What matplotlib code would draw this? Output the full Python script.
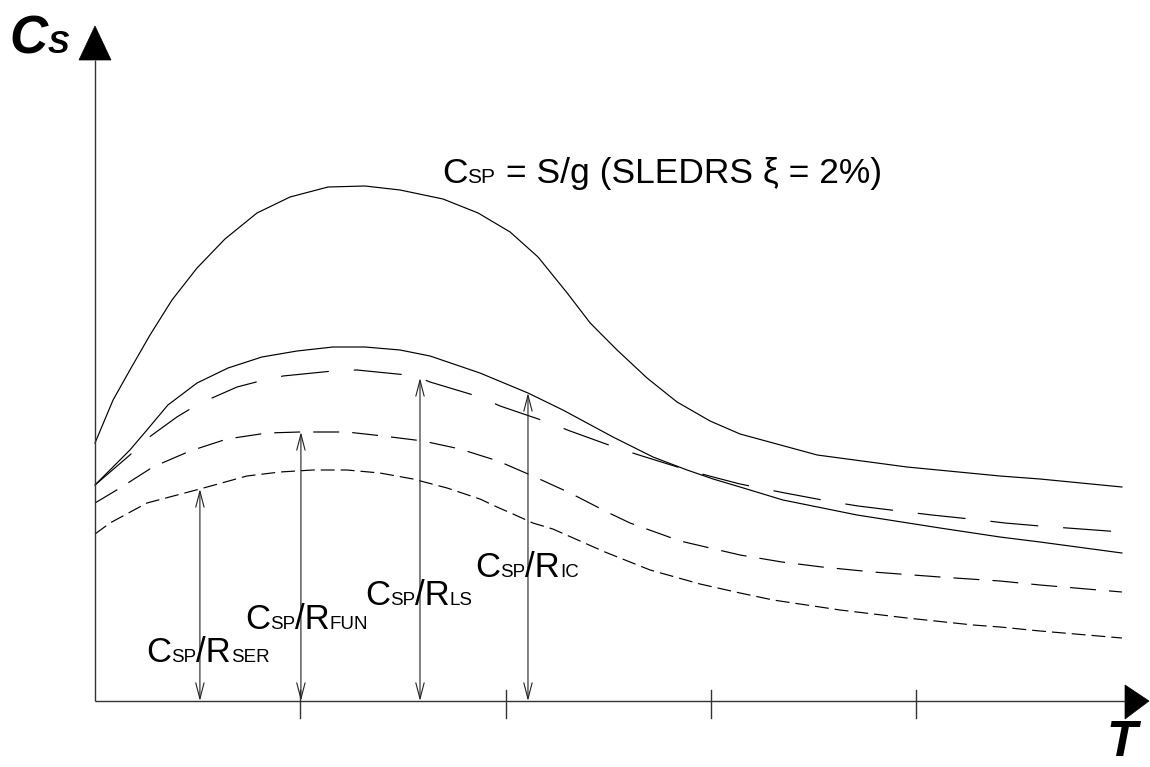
import numpy as np
import matplotlib
matplotlib.use("Agg")
import matplotlib.pyplot as plt
import matplotlib.transforms as mtransforms
from matplotlib.patches import Polygon

plt.rcParams['font.family'] = ['Liberation Sans', 'DejaVu Sans']
plt.rcParams['lines.scale_dashes'] = False

# ---------------- data (T in tick units, Cs in arbitrary units) ----------------
t_sledrs = [0.000, 0.088, 0.170, 0.268, 0.375, 0.497, 0.633, 0.789, 0.950, 1.135, 1.315,
            1.486, 1.695, 1.866, 2.022, 2.158, 2.300, 2.412, 2.543, 2.689, 2.835, 2.996,
            3.142, 3.518, 3.955, 4.408, 4.603, 5.002]
cs_sledrs = [2.58, 3.01, 3.31, 3.66, 4.01, 4.33, 4.62, 4.88, 5.04, 5.14, 5.15,
             5.11, 5.02, 4.88, 4.69, 4.44, 4.08, 3.78, 3.51, 3.23, 2.99, 2.80,
             2.67, 2.46, 2.34, 2.25, 2.22, 2.14]

t_ic = [0.000, 0.073, 0.170, 0.253, 0.355, 0.497, 0.648, 0.813, 0.984, 1.159, 1.315,
        1.486, 1.632, 1.875, 2.109, 2.279, 2.523, 2.718, 2.884, 3.011, 3.142, 3.351,
        3.712, 4.116, 4.408, 4.603, 5.002]
cs_ic = [2.16, 2.31, 2.51, 2.71, 2.96, 3.18, 3.33, 3.44, 3.50, 3.54, 3.54,
         3.51, 3.45, 3.28, 3.08, 2.91, 2.64, 2.44, 2.31, 2.22, 2.14, 2.01,
         1.86, 1.73, 1.64, 1.59, 1.48]

t_ls = [0.000, 0.170, 0.258, 0.399, 0.463, 0.570, 0.692, 0.804, 0.916, 1.159, 1.276,
        1.520, 1.583, 1.632, 1.875, 1.973, 2.202, 2.314, 2.543, 2.665, 2.884, 3.011,
        3.142, 3.361, 3.595, 3.717, 3.955, 4.077, 4.310, 4.432, 4.603, 5.002]
cs_ls = [2.16, 2.46, 2.63, 2.84, 2.92, 3.03, 3.14, 3.20, 3.25, 3.30, 3.31,
         3.26, 3.23, 3.19, 3.04, 2.95, 2.79, 2.70, 2.53, 2.45, 2.31, 2.24,
         2.17, 2.08, 1.99, 1.95, 1.89, 1.86, 1.81, 1.78, 1.75, 1.69]

t_fun = [0.000, 0.122, 0.282, 0.463, 0.643, 0.838, 0.999, 1.227, 1.403, 1.598, 1.778,
         1.963, 2.143, 2.314, 2.494, 2.606, 2.850, 3.142, 3.346, 3.541, 3.789, 4.116,
         4.408, 4.603, 5.002]
cs_fun = [1.98, 2.13, 2.34, 2.50, 2.62, 2.68, 2.69, 2.69, 2.65, 2.60, 2.52,
          2.40, 2.24, 2.08, 1.89, 1.78, 1.60, 1.46, 1.39, 1.34, 1.29, 1.24,
          1.20, 1.16, 1.09]

t_ser = [0.000, 0.073, 0.253, 0.511, 0.740, 0.901, 1.062, 1.227, 1.388, 1.549, 1.715,
         1.875, 1.958, 2.036, 2.133, 2.230, 2.484, 2.704, 2.947, 3.142, 3.303, 3.629,
         3.955, 4.277, 4.408, 4.603, 5.002]
cs_ser = [1.67, 1.78, 1.98, 2.12, 2.25, 2.29, 2.31, 2.31, 2.28, 2.22, 2.13,
          2.02, 1.94, 1.87, 1.78, 1.72, 1.49, 1.31, 1.17, 1.08, 1.01, 0.91,
          0.83, 0.76, 0.74, 0.70, 0.63]

x_ticks = [1, 2, 3, 4]
arrow_t = {'SER': 0.511, 'FUN': 1.003, 'LS': 1.583, 'IC': 2.109}

# ---------------- layout ----------------
W, H = 1150, 767
X0, Y0 = 95, 701          # origin in pixels
PXT, PXC = 205.3, 100.0   # pixels per unit
def tx(px): return (px - X0) / PXT
def cy(py): return (Y0 - py) / PXC

fig = plt.figure(figsize=(W / 100, H / 100), dpi=100)
ax = fig.add_axes([0, 0, 1, 1])
ax.set_xlim(tx(0), tx(W))
ax.set_ylim(cy(H), cy(0))
ax.axis('off')

lw = 0.85
ax.plot(t_sledrs, cs_sledrs, color='k', lw=lw)
ax.plot(t_ic, cs_ic, color='k', lw=lw)
ax.plot(t_ls, cs_ls, color='k', lw=lw, linestyle=(0, (34.6, 18.0)))
ax.plot(t_fun, cs_fun, color='k', lw=lw, linestyle=(0, (18.7, 9.4)))
ax.plot(t_ser, cs_ser, color='k', lw=lw, linestyle=(0, (10.0, 4.3)))

# axes
ax.plot([0, tx(1125)], [0, 0], color='#333333', lw=1.0, solid_capstyle='butt')
ax.plot([0, 0], [0, cy(60)], color='#333333', lw=1.0, solid_capstyle='butt')
ax.add_patch(Polygon([[tx(1125), cy(685)], [tx(1149), cy(701)], [tx(1125), cy(719)]],
                     closed=True, facecolor='k', edgecolor='k', lw=0.5))
ax.add_patch(Polygon([[tx(79), cy(60)], [tx(95), cy(26)], [tx(111), cy(60)]],
                     closed=True, facecolor='k', edgecolor='k', lw=0.5))
for t in x_ticks:
    ax.plot([t, t], [cy(690), cy(718)], color='#333333', lw=1.0)

# vertical double arrows
curves = {'SER': (t_ser, cs_ser), 'FUN': (t_fun, cs_fun), 'LS': (t_ls, cs_ls), 'IC': (t_ic, cs_ic)}
for key, t in arrow_t.items():
    tt, cc = curves[key]
    top = float(np.interp(t, tt, cc))
    ax.annotate('', xy=(t, top), xytext=(t, 0),
                arrowprops=dict(arrowstyle='<->,head_length=1.15,head_width=0.3',
                                color='#222222', lw=0.8, shrinkA=0, shrinkB=0,
                                mutation_scale=10))

renderer = fig.canvas.get_renderer()

def rich(x, y, parts, **kw):
    off = 0.0
    for s, size in parts:
        tr = mtransforms.offset_copy(ax.transData, fig=fig, x=off, y=0, units='dots')
        txt = ax.text(x, y, s, fontsize=size, ha='left', va='baseline', transform=tr, **kw)
        off += txt.get_window_extent(renderer).width

BIG, SMALL = 25, 13.5
rich(tx(442), cy(183), [('C', 25.5), ('SP', 15), (' = S/g (SLEDRS \u03be = 2%)', 25.5)])
rich(tx(146), cy(662), [('C', BIG), ('SP', SMALL), ('/R', BIG), ('SER', SMALL)])
rich(tx(245), cy(629), [('C', BIG), ('SP', SMALL), ('/R', BIG), ('FUN', SMALL)])
rich(tx(365), cy(605), [('C', BIG), ('SP', SMALL), ('/R', BIG), ('LS', SMALL)])
rich(tx(475), cy(577), [('C', BIG), ('SP', SMALL), ('/R', BIG), ('IC', SMALL)])

rich(tx(9), cy(53), [('C', 38), ('S', 23)], fontweight='bold', fontstyle='italic')
ax.text(tx(1106), cy(766), 'T', fontsize=36, fontweight='bold', fontstyle='italic',
        ha='left', va='bottom')

fig.savefig('out.png', dpi=100)
